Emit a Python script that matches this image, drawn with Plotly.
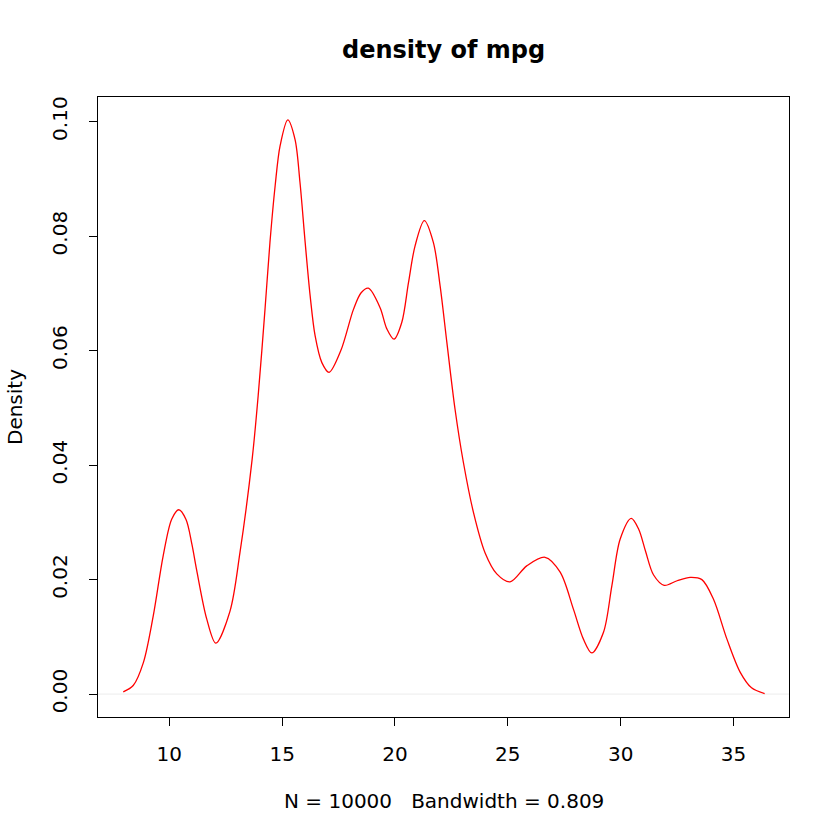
import plotly.graph_objects as go

# Density curve
mpg_x = [7.96, 8.40, 8.85, 9.29, 9.73, 10.11, 10.42, 10.74, 11.00, 11.21, 11.66, 12.06,
         12.69, 13.13, 13.67, 13.95, 14.24, 14.46, 14.69, 14.91, 15.25,
         15.57, 15.79, 16.02, 16.24, 16.46, 16.76, 17.08, 17.60, 18.16, 18.50, 18.82,
         19.34, 19.64, 19.96, 20.30, 20.60, 20.89, 21.30, 21.70, 22.00, 22.30, 22.66,
         23.03, 23.48, 23.99, 24.51,
         25.10, 25.84, 26.65, 27.32, 27.91, 28.35, 28.72, 29.24, 29.61, 29.98,
         30.47, 30.80, 31.10, 31.46, 31.93, 32.50, 33.08, 33.60, 34.11, 34.71, 35.30, 35.80, 36.38]
density_y = [0.0004, 0.0015, 0.0055, 0.0137, 0.0242, 0.0306, 0.0322, 0.0305, 0.0262, 0.0217, 0.0131, 0.0089,
             0.0145, 0.0247, 0.0410, 0.0527, 0.0672, 0.0789, 0.0888, 0.0958, 0.1003,
             0.0969, 0.0894, 0.0789, 0.0696, 0.0626, 0.0579, 0.0562, 0.0600, 0.0672, 0.0701, 0.0709,
             0.0675, 0.0638, 0.0620, 0.0649, 0.0719, 0.0783, 0.0827, 0.0789, 0.0713, 0.0614, 0.0498,
             0.0405, 0.0317, 0.0247, 0.0210,
             0.0196, 0.0224, 0.0239, 0.0213, 0.0148, 0.0096, 0.0072, 0.0108, 0.0189, 0.0271,
             0.0307, 0.0288, 0.0250, 0.0208, 0.0190, 0.0198, 0.0204, 0.0200, 0.0166, 0.0096, 0.0038, 0.0011, 0.0001]

x_ticks = [10, 15, 20, 25, 30, 35]
y_ticks = [0.00, 0.02, 0.04, 0.06, 0.08, 0.10]
y_tick_text = ["0.00", "0.02", "0.04", "0.06", "0.08", "0.10"]

title_text = "density of mpg"
x_label = "N = 10000   Bandwidth = 0.809"
y_label = "Density"

FONT = "DejaVu Sans"

fig = go.Figure()
fig.add_trace(go.Scatter(x=mpg_x, y=density_y, mode="lines",
                         line=dict(color="red", width=1.3, shape="spline", smoothing=0.9),
                         showlegend=False, hoverinfo="skip"))

fig.add_shape(type="line", xref="paper", yref="y", x0=0, x1=1, y0=0, y1=0,
              line=dict(color="#ececec", width=1), layer="below")

fig.update_layout(
    width=840, height=840,
    margin=dict(l=98, r=51, t=97, b=123),
    paper_bgcolor="white", plot_bgcolor="white",
    font=dict(family=FONT, size=20, color="black"),
    xaxis=dict(range=[6.84, 37.46], tickvals=x_ticks, ticks="outside", ticklen=8,
               tickcolor="black", tickwidth=1, showgrid=False, zeroline=False,
               showline=True, linecolor="black", linewidth=1, mirror=True,
               ticklabelstandoff=11,
               tickfont=dict(size=20, family=FONT)),
    yaxis=dict(range=[-0.0040, 0.1043], tickvals=y_ticks, ticktext=y_tick_text,
               ticks="outside", ticklen=8, tickcolor="black", tickwidth=1,
               tickangle=-90, showgrid=False, zeroline=False,
               showline=True, linecolor="black", linewidth=1, mirror=True,
               ticklabelstandoff=14,
               tickfont=dict(size=20, family=FONT)),
    annotations=[
        dict(text="<b>" + title_text + "</b>", xref="paper", yref="paper", x=0.5, y=1.0758,
             showarrow=False, font=dict(size=24, family=FONT), xanchor="center", yanchor="middle"),
        dict(text=x_label, xref="paper", yref="paper", x=0.5, y=-0.1355,
             showarrow=False, font=dict(size=20, family=FONT), xanchor="center", yanchor="middle"),
        dict(text=y_label, xref="paper", yref="paper", x=-0.1201, y=0.5, textangle=-90,
             showarrow=False, font=dict(size=20, family=FONT), xanchor="center", yanchor="middle"),
    ],
)

fig.write_html("out.html")
